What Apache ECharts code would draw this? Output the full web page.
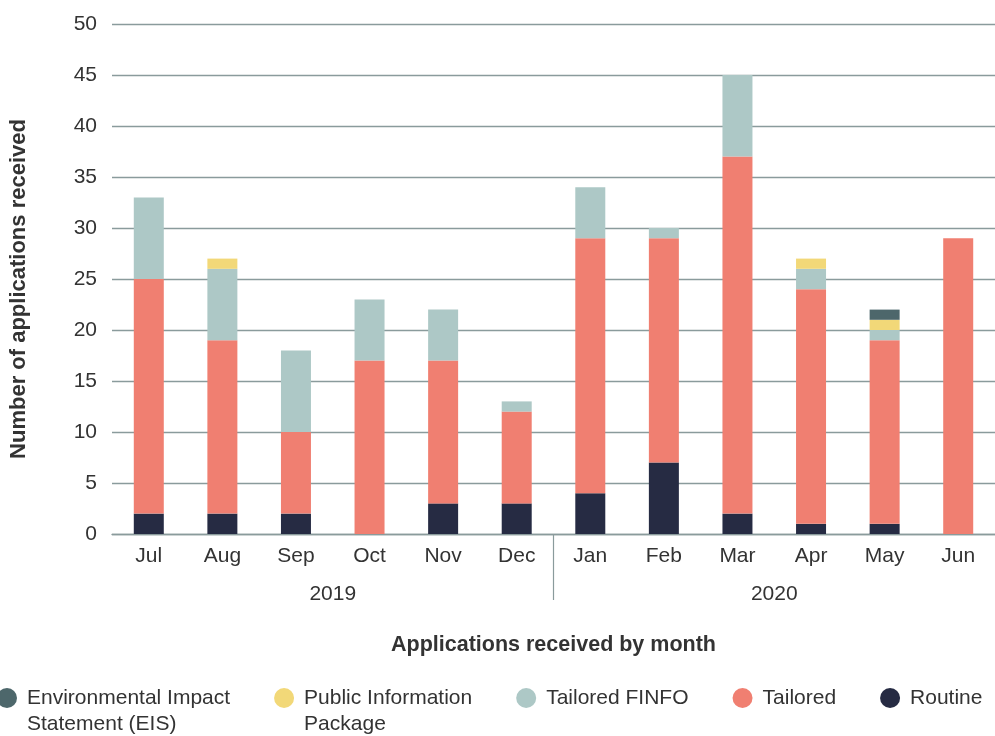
<!DOCTYPE html>
<html>
<head>
<meta charset="utf-8">
<script src="https://cdn.jsdelivr.net/npm/echarts@6/dist/echarts.min.js"></script>
<style>html,body{margin:0;padding:0;background:#fff}#c{width:995px;height:736px}</style>
</head>
<body>
<div id="c"></div>
<script>
const months = ['Jul','Aug','Sep','Oct','Nov','Dec','Jan','Feb','Mar','Apr','May','Jun'];
const years = ['2019','2020'];
const routine = [2,2,2,0,3,3,4,7,2,1,1,0];
const tailored = [23,17,8,17,14,9,25,22,35,23,18,29];
const tailoredFinfo = [8,7,8,6,5,1,5,1,8,2,1,0];
const publicInfo = [0,1,0,0,0,0,0,0,0,1,1,0];
const eis = [0,0,0,0,0,0,0,0,0,0,1,0];

const FONT = 'Liberation Sans';
const TXT = '#333';
const GRID = '#8a9b9c';
const FS = 21;

const chart = echarts.init(document.getElementById('c'));
const mk = (name, data, color) => ({
  name, type: 'bar', stack: 'total', data, barWidth: 30,
  itemStyle: { color }, xAxisIndex: 0, yAxisIndex: 0
});

chart.setOption({
  animation: false,
  textStyle: { fontFamily: FONT },
  grid: { left: 112, right: 0, top: 24, bottom: 202, containLabel: false },
  xAxis: [
    {
      type: 'category', data: months, position: 'bottom',
      axisLine: { show: true, lineStyle: { color: GRID, width: 1.3 } },
      axisTick: { show: false },
      axisLabel: { color: TXT, fontSize: FS, margin: 12, fontFamily: FONT }
    },
    {
      type: 'value', min: 0, max: years.length, position: 'bottom',
      axisLine: { show: false },
      splitLine: { show: false },
      axisTick: { show: true, customValues: [1], length: 66, lineStyle: { color: GRID, width: 1.2 } },
      axisLabel: {
        show: true, customValues: [0.5, 1.5], color: TXT, fontSize: FS, margin: 50, fontFamily: FONT,
        formatter: v => years[Math.floor(v)]
      },
      name: 'Applications received by month', nameLocation: 'middle', nameGap: 100,
      nameTextStyle: { color: TXT, fontSize: 21.5, fontWeight: 'bold', fontFamily: FONT }
    }
  ],
  yAxis: {
    type: 'value', min: 0, max: 50, interval: 5,
    axisLine: { show: false }, axisTick: { show: false },
    splitLine: { lineStyle: { color: GRID, width: 1.3 } },
    axisLabel: { color: TXT, fontSize: FS, margin: 15, fontFamily: FONT },
    name: 'Number of applications received', nameLocation: 'middle', nameGap: 82, nameRotate: 90,
    nameTextStyle: { color: TXT, fontSize: 22, fontWeight: 'bold', fontFamily: FONT, padding: [0, 20, 0, 0] }
  },
  legend: {
    left: -3, top: 659, padding: 0, icon: 'circle', itemWidth: 20, itemHeight: 20, itemGap: 44,
    textStyle: { color: TXT, fontSize: FS, fontFamily: FONT, lineHeight: 26, padding: [0,0,0,5] },
    formatter: name => name.indexOf('\n') >= 0 ? ' \n' + name : name,
    data: [
      'Environmental Impact\nStatement (EIS)',
      'Public Information\nPackage',
      'Tailored FINFO', 'Tailored', 'Routine'
    ]
  },
  series: [
    mk('Routine', routine, '#262b43'),
    mk('Tailored', tailored, '#f07f71'),
    mk('Tailored FINFO', tailoredFinfo, '#adc8c6'),
    mk('Public Information\nPackage', publicInfo, '#f2d878'),
    mk('Environmental Impact\nStatement (EIS)', eis, '#4d676b')
  ]
});
</script>
</body>
</html>
